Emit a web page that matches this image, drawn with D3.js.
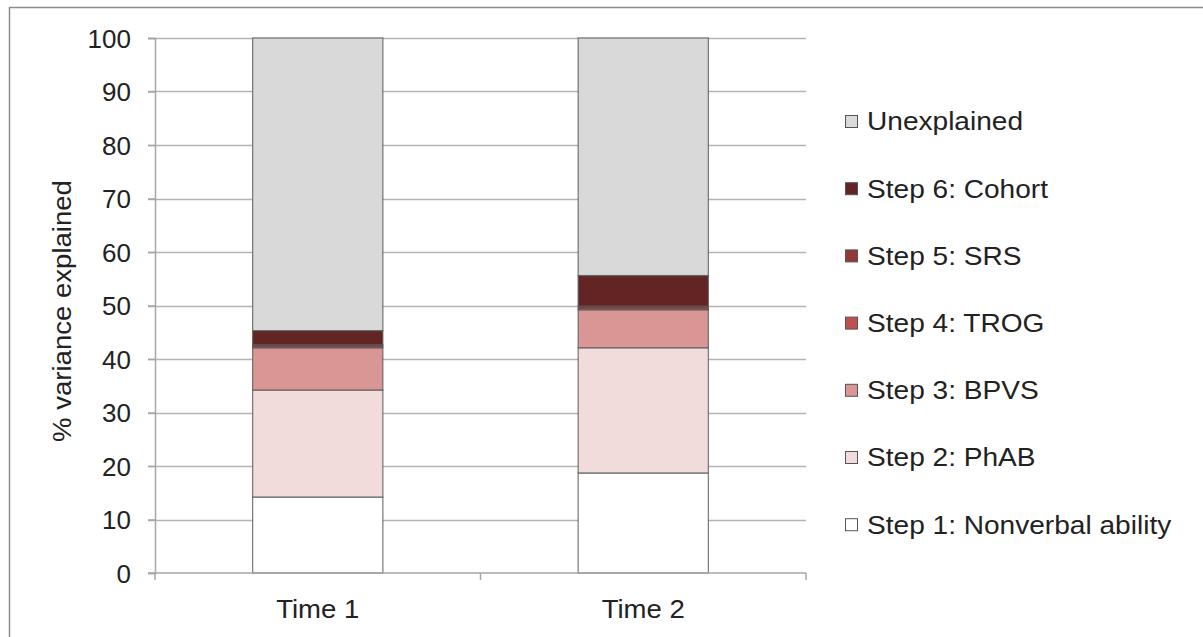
<!DOCTYPE html>
<html>
<head>
<meta charset="utf-8">
<script src="https://cdn.jsdelivr.net/npm/d3@7"></script>
<style>
  body { margin: 0; background: #fff; }
  svg { font-family: "Liberation Sans", Arial, sans-serif; }
</style>
</head>
<body>
<div id="chart"></div>
<script>
// data
var times = ["Time 1", "Time 2"];
var steps = ["Step 1: Nonverbal ability", "Step 2: PhAB", "Step 3: BPVS", "Step 4: TROG", "Step 5: SRS", "Step 6: Cohort", "Unexplained"];
var stepColors = ["#ffffff", "#f2dcdb", "#d99694", "#c0504d", "#953735", "#632523", "#d9d9d9"];
var time1 = [14.2, 20.0, 7.9, 0.3, 0.3, 2.6, 54.7];
var time2 = [18.7, 23.4, 7.1, 0.3, 0.4, 5.7, 44.4];
var yTicks = [0, 10, 20, 30, 40, 50, 60, 70, 80, 90, 100];

var W = 1203, H = 637;
var margin = {top: 38, right: 397, bottom: 64, left: 155},
    width = W - margin.left - margin.right,
    height = H - margin.top - margin.bottom;

var svg = d3.select("#chart").append("svg")
    .attr("width", W)
    .attr("height", H);

// outer frame (only top/left visible in the picture)
svg.append("rect")
    .attr("x", 9.5).attr("y", 7.5)
    .attr("width", W + 10).attr("height", H + 10)
    .attr("fill", "none")
    .attr("stroke", "#8c8c8c")
    .attr("stroke-width", 1.5);

var g = svg.append("g")
    .attr("transform", "translate(" + margin.left + "," + margin.top + ")");

var x = d3.scaleBand().domain(times).range([0, width]).paddingInner(0.6).paddingOuter(0.3);
var y = d3.scaleLinear().domain([0, 100]).range([height, 0]);

// gridlines
g.selectAll(".grid")
    .data(yTicks.slice(1))
    .enter().append("line")
    .attr("x1", -7).attr("x2", width)
    .attr("y1", function(d) { return Math.round(y(d)) + 0.5; })
    .attr("y2", function(d) { return Math.round(y(d)) + 0.5; })
    .attr("stroke", "#b3b3b3")
    .attr("stroke-width", 1.5);

// stacked bars
var table = times.map(function(t, i) {
  var row = {time: t};
  var vals = i === 0 ? time1 : time2;
  steps.forEach(function(s, j) { row[s] = vals[j]; });
  return row;
});
var series = d3.stack().keys(steps)(table);

g.selectAll(".layer")
    .data(series)
    .enter().append("g")
    .attr("fill", function(d, i) { return stepColors[i]; })
  .selectAll("rect")
    .data(function(d) { return d; })
    .enter().append("rect")
    .attr("x", function(d) { return x(d.data.time); })
    .attr("width", x.bandwidth())
    .attr("y", function(d) { return y(d[1]); })
    .attr("height", function(d) { return y(d[0]) - y(d[1]); })
    .attr("stroke", "#555")
    .attr("stroke-opacity", 0.8)
    .attr("stroke-width", 1.2);

// y axis
var yAxis = g.append("g")
    .call(d3.axisLeft(y).tickValues(yTicks).tickSize(7).tickPadding(17));
yAxis.select(".domain").attr("stroke", "#a6a6a6").attr("stroke-width", 1.5);
yAxis.selectAll(".tick line").attr("stroke", "#a6a6a6").attr("stroke-width", 1.5);
yAxis.selectAll("text").style("font-size", "26px").attr("fill", "#222").attr("dy", "0.35em");

// x axis with ticks between categories
var xAxis = g.append("g").attr("transform", "translate(0," + height + ")");
xAxis.append("line")
    .attr("x1", -7).attr("x2", width)
    .attr("stroke", "#a6a6a6").attr("stroke-width", 1.5);
xAxis.selectAll(".sep")
    .data([0, width / 2, width])
    .enter().append("line")
    .attr("x1", function(d) { return d; }).attr("x2", function(d) { return d; })
    .attr("y1", 0).attr("y2", 7)
    .attr("stroke", "#a6a6a6").attr("stroke-width", 1.5);
xAxis.selectAll(".lab")
    .data(times)
    .enter().append("g")
    .attr("transform", function(d) { return "translate(" + (x(d) + x.bandwidth() / 2) + ",45) scale(1.06,1)"; })
  .append("text")
    .attr("text-anchor", "middle")
    .style("font-size", "26px")
    .attr("fill", "#222")
    .text(function(d) { return d; });

// y title
svg.append("text")
    .attr("transform", "translate(71,311) rotate(-90) scale(1.06,1)")
    .attr("text-anchor", "middle")
    .style("font-size", "26px")
    .attr("fill", "#222")
    .text("% variance explained");

// legend, top item = Unexplained
var legendOrder = steps.slice().reverse();
var legend = svg.selectAll(".legend")
    .data(legendOrder)
    .enter().append("g")
    .attr("transform", function(d, i) { return "translate(845," + (121 + i * 67.2) + ")"; });

legend.append("rect")
    .attr("x", 0.5).attr("y", -5.5)
    .attr("width", 12).attr("height", 12)
    .attr("fill", function(d) { return stepColors[steps.indexOf(d)]; })
    .attr("stroke", "#555");

legend.append("text")
    .attr("transform", "translate(22,0) scale(1.08,1)")
    .attr("dy", "0.36em")
    .style("font-size", "26px")
    .attr("fill", "#222")
    .text(function(d) { return d; });
</script>
</body>
</html>
